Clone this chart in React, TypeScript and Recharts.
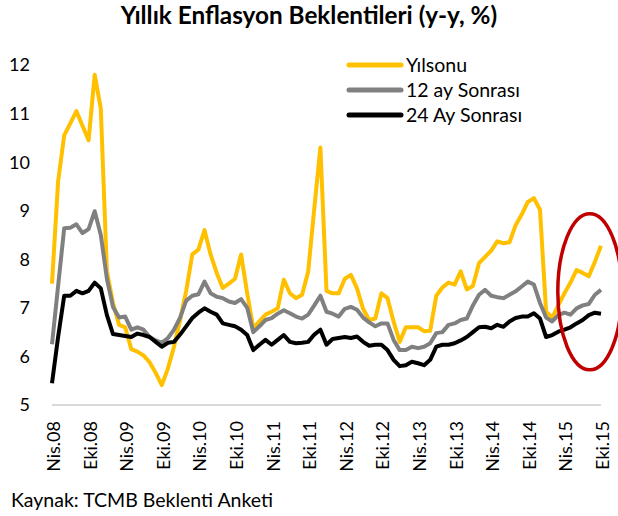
import { LineChart, Line, XAxis, YAxis, ReferenceDot } from "recharts";

const MONTHS = ["Oca", "Şub", "Mar", "Nis", "May", "Haz", "Tem", "Ağu", "Eyl", "Eki", "Kas", "Ara"];

// Nis.08 .. Eki.15, monthly
const categories: string[] = [];
for (let y = 2008; y <= 2015; y++) {
  for (let m = 0; m < 12; m++) {
    if (y === 2008 && m < 3) continue;
    if (y === 2015 && m > 9) continue;
    categories.push(`${MONTHS[m]}.${String(y).slice(2)}`);
  }
}

const yilsonu = [
  7.5, 9.6, 10.55, 10.8, 11.05, 10.75, 10.45, 11.8, 11.1, 7.75,
  7.1, 6.65, 6.6, 6.15, 6.1, 6.02, 5.88, 5.66, 5.41, 5.75,
  6.2, 6.75, 7.35, 8.1, 8.2, 8.6, 8.1, 7.72, 7.41, 7.5,
  7.6, 8.1, 7.3, 6.58, 6.72, 6.86, 6.92, 6.99, 7.58, 7.3,
  7.2, 7.27, 7.75, 9.05, 10.3, 7.35, 7.3, 7.3, 7.6, 7.68,
  7.4, 6.98, 6.75, 6.78, 7.3, 7.2, 6.72, 6.3, 6.6, 6.6,
  6.6, 6.52, 6.53, 7.25, 7.42, 7.52, 7.48, 7.75, 7.38, 7.45,
  7.92, 8.05, 8.18, 8.37, 8.33, 8.35, 8.7, 8.92, 9.18, 9.26,
  9.02, 6.92, 6.8, 7.05, 7.3, 7.52, 7.78, 7.72, 7.65, 7.95,
  8.28,
];

const ay12 = [
  6.25, 7.45, 8.64, 8.65, 8.72, 8.54, 8.62, 8.99, 8.5, 7.6,
  7.02, 6.8, 6.82, 6.55, 6.6, 6.55, 6.4, 6.33, 6.28, 6.38,
  6.55, 6.8, 7.15, 7.25, 7.28, 7.54, 7.3, 7.23, 7.2, 7.13,
  7.1, 7.18, 7.0, 6.5, 6.62, 6.75, 6.79, 6.88, 6.95, 6.89,
  6.82, 6.78, 6.86, 7.05, 7.25, 6.92, 6.88, 6.82, 6.98, 7.02,
  6.96, 6.8, 6.7, 6.62, 6.68, 6.68, 6.34, 6.13, 6.13, 6.2,
  6.17, 6.2, 6.27, 6.48, 6.5, 6.65, 6.68, 6.75, 6.78, 7.05,
  7.27, 7.37, 7.25, 7.22, 7.2, 7.27, 7.34, 7.44, 7.54, 7.48,
  7.1, 6.8, 6.72, 6.85, 6.9, 6.86, 6.99, 7.05, 7.08, 7.27,
  7.37,
];

const ay24 = [
  5.45, 6.4, 7.25, 7.25, 7.35, 7.3, 7.35, 7.52, 7.4, 6.85,
  6.46, 6.44, 6.42, 6.4, 6.47, 6.44, 6.4, 6.3, 6.2, 6.28,
  6.3, 6.45, 6.62, 6.79, 6.9, 6.99, 6.92, 6.86, 6.68, 6.65,
  6.62, 6.55, 6.44, 6.13, 6.24, 6.34, 6.24, 6.34, 6.44, 6.3,
  6.27, 6.28, 6.3, 6.45, 6.55, 6.24, 6.36, 6.38, 6.4, 6.38,
  6.41, 6.3, 6.22, 6.24, 6.24, 6.13, 5.93, 5.8, 5.82, 5.89,
  5.86, 5.82, 5.93, 6.2, 6.24, 6.24, 6.27, 6.33, 6.4, 6.5,
  6.6, 6.61, 6.58, 6.65, 6.61, 6.72, 6.79, 6.82, 6.82, 6.89,
  6.78, 6.4, 6.44, 6.51, 6.55, 6.6, 6.68, 6.75, 6.85, 6.9,
  6.88,
];

const yTicks = [5, 6, 7, 8, 9, 10, 11, 12];

const data = categories.map((c, i) => ({
  ay: c,
  yilsonu: yilsonu[i],
  ay12: ay12[i],
  ay24: ay24[i],
}));

const series = [
  { key: "yilsonu", name: "Yılsonu", color: "#FFC000" },
  { key: "ay12", name: "12 ay Sonrası", color: "#808080" },
  { key: "ay24", name: "24 Ay Sonrası", color: "#000000" },
];

const FONT = "Lato, 'Noto Sans', sans-serif";

const XTick = ({ x, y, payload }: any) => (
  <text
    x={x + 1}
    y={y}
    transform={`rotate(-90, ${x + 1}, ${y})`}
    textAnchor="end"
    dominantBaseline="central"
    fontSize={18}
    fontFamily={FONT}
    fill="#000"
  >
    {payload.value}
  </text>
);

const Ellipse = ({ cx, cy }: any) => (
  <ellipse cx={cx + 1} cy={cy} rx={32} ry={78} fill="none" stroke="#C00000" strokeWidth={3.5} />
);

export default function App() {
  return (
    <div style={{ position: "absolute", left: 0, top: 0, width: 618, height: 516, background: "#fff" }}>
      <div
        style={{
          position: "absolute",
          left: 0,
          width: 618,
          top: 0,
          textAlign: "center",
          fontFamily: FONT,
          fontWeight: 700,
          fontSize: 24.3,
          color: "#000",
        }}
      >
        Yıllık Enflasyon Beklentileri (y-y, %)
      </div>
      <div style={{ position: "absolute", top: 0, left: 0 }}>
        <LineChart
          width={618}
          height={485}
          data={data}
          margin={{ top: 65, right: 17, bottom: 0, left: 0 }}
        >
          <XAxis
            dataKey="ay"
            interval={5}
            tick={<XTick />}
            tickLine={false}
            axisLine={{ stroke: "#D9D9D9", strokeWidth: 2 }}
            height={80}
            tickMargin={10}
          />
          <YAxis
            domain={[5, 12]}
            ticks={yTicks}
            axisLine={false}
            tickLine={false}
            tickSize={0}
            tickMargin={22}
            width={52}
            tick={{ fontSize: 18, fontFamily: FONT, fill: "#000" }}
          />
          {series.map((s) => (
            <Line
              key={s.key}
              dataKey={s.key}
              name={s.name}
              stroke={s.color}
              strokeWidth={4}
              strokeLinejoin="round"
              dot={false}
              activeDot={false}
              isAnimationActive={false}
            />
          ))}
          <ReferenceDot x="Ağu.15" y={7.33} shape={<Ellipse />} ifOverflow="visible" />
        </LineChart>
      </div>
      <div
        style={{
          position: "absolute",
          left: 346,
          top: 52,
          fontFamily: FONT,
          fontSize: 19.5,
          color: "#000",
        }}
      >
        {series.map((s) => (
          <div key={s.key} style={{ display: "flex", alignItems: "center", height: 25 }}>
            <svg width={58} height={10}>
              <line x1={3} y1={5} x2={55} y2={5} stroke={s.color} strokeWidth={5} strokeLinecap="round" />
            </svg>
            <span style={{ marginLeft: 2 }}>{s.name}</span>
          </div>
        ))}
      </div>
      <div
        style={{
          position: "absolute",
          left: 11,
          top: 488,
          fontFamily: FONT,
          fontSize: 19.5,
          color: "#000",
        }}
      >
        Kaynak: TCMB Beklenti Anketi
      </div>
    </div>
  );
}
